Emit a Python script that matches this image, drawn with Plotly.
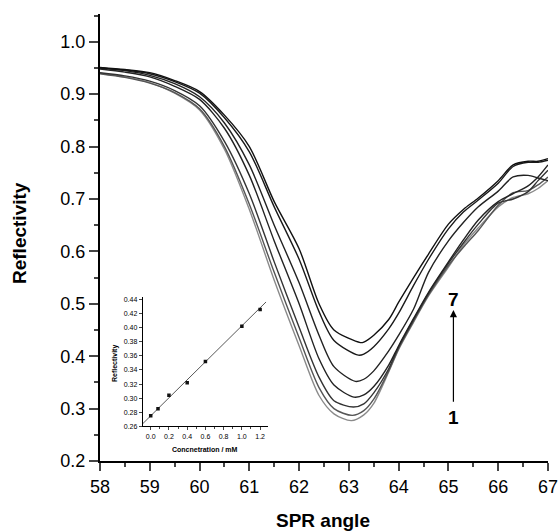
import plotly.graph_objects as go

# ---- main SPR curves (angle in degrees, reflectivity) ----
angle_left = [58, 58.5, 59, 59.5, 60, 60.5, 61, 61.5, 62, 62.4, 62.7]
angle_right = [63.3, 63.5, 63.8, 64.0, 64.3, 64.6, 65.0, 65.3, 65.6, 66.0, 66.3, 66.6, 66.8, 67]

min_angle = [63.05, 63.07, 63.09, 63.10, 63.13, 63.19, 63.23]
min_refl = [0.277, 0.287, 0.303, 0.322, 0.352, 0.402, 0.426]

left_c1 = [0.940, 0.933, 0.922, 0.902, 0.870, 0.795, 0.680, 0.545, 0.420, 0.325, 0.290]
left_c2 = [0.939, 0.932, 0.921, 0.903, 0.872, 0.800, 0.690, 0.560, 0.435, 0.340, 0.300]
left_c3 = [0.941, 0.935, 0.925, 0.907, 0.878, 0.810, 0.710, 0.580, 0.455, 0.360, 0.315]
left_c4 = [0.948, 0.942, 0.933, 0.915, 0.890, 0.835, 0.745, 0.620, 0.500, 0.395, 0.345]
left_c5 = [0.950, 0.945, 0.936, 0.920, 0.895, 0.845, 0.765, 0.650, 0.540, 0.440, 0.380]
left_c6 = [0.950, 0.946, 0.939, 0.924, 0.902, 0.855, 0.790, 0.685, 0.585, 0.485, 0.430]
left_c7 = [0.951, 0.947, 0.941, 0.926, 0.905, 0.860, 0.800, 0.695, 0.605, 0.500, 0.450]

right_c1 = [0.288, 0.310, 0.370, 0.413, 0.465, 0.515, 0.570, 0.612, 0.645, 0.685, 0.703, 0.710, 0.720, 0.735]
right_c2 = [0.296, 0.318, 0.372, 0.415, 0.467, 0.517, 0.573, 0.608, 0.640, 0.688, 0.712, 0.716, 0.727, 0.742]
right_c3 = [0.309, 0.330, 0.376, 0.418, 0.470, 0.520, 0.577, 0.616, 0.652, 0.692, 0.700, 0.714, 0.735, 0.755]
right_c4 = [0.326, 0.342, 0.383, 0.420, 0.472, 0.522, 0.580, 0.622, 0.660, 0.695, 0.710, 0.725, 0.742, 0.765]
right_c5 = [0.356, 0.372, 0.410, 0.440, 0.490, 0.560, 0.620, 0.655, 0.685, 0.715, 0.742, 0.745, 0.740, 0.735]
right_c6 = [0.404, 0.418, 0.452, 0.482, 0.535, 0.585, 0.643, 0.675, 0.698, 0.730, 0.762, 0.770, 0.770, 0.774]
right_c7 = [0.427, 0.440, 0.470, 0.503, 0.550, 0.595, 0.652, 0.680, 0.702, 0.735, 0.765, 0.772, 0.772, 0.777]

lefts = [left_c1, left_c2, left_c3, left_c4, left_c5, left_c6, left_c7]
rights = [right_c1, right_c2, right_c3, right_c4, right_c5, right_c6, right_c7]
curve_colors = ["#8a8a8a", "#555555", "#333333", "#222222", "#222222", "#1a1a1a", "#111111"]

# ---- inset calibration data ----
conc = [0.0, 0.08, 0.2, 0.4, 0.6, 1.0, 1.2]
conc_refl = [0.275, 0.285, 0.304, 0.322, 0.352, 0.402, 0.426]
fit_slope = 0.1278
fit_intercept = 0.2749
fit_x = [-0.088, 1.265]

x_ticks = [58, 59, 60, 61, 62, 63, 64, 65, 66, 67]
y_ticks = [0.2, 0.3, 0.4, 0.5, 0.6, 0.7, 0.8, 0.9, 1.0]
inset_x_ticks = [0.0, 0.2, 0.4, 0.6, 0.8, 1.0, 1.2]
inset_y_ticks = [0.26, 0.28, 0.30, 0.32, 0.34, 0.36, 0.38, 0.40, 0.42, 0.44]

W, H = 560, 531
ML, MR, MT, MB = 100, 12, 14, 70
PAGE_OFF = 0  # body margin removed via post_script


def px_to_paper(px, py):
    x = (px - PAGE_OFF - ML) / (W - ML - MR)
    y = ((H - (py - PAGE_OFF)) - MB) / (H - MT - MB)
    return x, y


fig = go.Figure()

for i in range(7):
    xs = angle_left + [min_angle[i]] + angle_right
    ys = lefts[i] + [min_refl[i]] + rights[i]
    fig.add_trace(go.Scatter(
        x=xs, y=ys, mode="lines",
        line=dict(color=curve_colors[i], width=1.4, shape="spline", smoothing=0.8),
        showlegend=False, hoverinfo="skip", xaxis="x", yaxis="y"))

# inset fit line + points
fig.add_trace(go.Scatter(
    x=fit_x, y=[fit_intercept + fit_slope * v for v in fit_x], mode="lines",
    line=dict(color="#444444", width=0.9), showlegend=False,
    xaxis="x2", yaxis="y2", hoverinfo="skip"))
fig.add_trace(go.Scatter(
    x=conc, y=conc_refl, mode="markers",
    marker=dict(symbol="square", size=3.5, color="#111111"), showlegend=False,
    xaxis="x2", yaxis="y2", hoverinfo="skip"))

font_main = "Liberation Sans, Arial, sans-serif"

title_specs = [
    ("<b>SPR angle</b>", 323, 520, 19, 0),
    ("<b>Reflectivity</b>", 20, 233, 19, -90),
    ("<b>Concnetration / mM</b>", 205, 449, 7, 0),
    ("<b>Reflectivity</b>", 115, 364, 7, -90),
]
title_anns = []
for text, px, py, size, ang in title_specs:
    ax_, ay_ = px_to_paper(px, py)
    title_anns.append(dict(x=ax_, y=ay_, xref="paper", yref="paper", text=text, showarrow=False,
                           xanchor="center", yanchor="middle",
                           textangle=ang, font=dict(size=size, family=font_main, color="black")))

fig.update_layout(
    width=W, height=H,
    margin=dict(l=ML, r=MR, t=MT, b=MB, autoexpand=False),
    paper_bgcolor="white", plot_bgcolor="white",
    font=dict(family=font_main, color="black"),
    xaxis=dict(
        range=[58, 67], tickvals=x_ticks, ticks="outside", ticklen=8, tickwidth=2,
        showline=True, linecolor="black", linewidth=2, showgrid=False, zeroline=False,
        tickfont=dict(size=18, family=font_main), automargin=False,
        minor=dict(ticks="outside", ticklen=4, tickwidth=2, dtick=0.5, tick0=58, showgrid=False),
        domain=[0, 1]),
    yaxis=dict(
        range=[0.2, 1.053], tickvals=y_ticks, tickformat=".1f", ticks="outside", ticklen=9, tickwidth=2,
        showline=True, linecolor="black", linewidth=2, showgrid=False, zeroline=False,
        tickfont=dict(size=18, family=font_main), automargin=False,
        minor=dict(ticks="outside", ticklen=4, tickwidth=2, dtick=0.05, tick0=0.2, showgrid=False),
        domain=[0, 1]),
    xaxis2=dict(
        domain=[0.0953, 0.3757], anchor="y2", range=[-0.088, 1.29],
        tickvals=inset_x_ticks, tickformat=".1f", ticks="outside", ticklen=3, tickwidth=1,
        minor=dict(ticks="outside", ticklen=2, dtick=0.1, tick0=0, showgrid=False),
        showline=True, linecolor="black", linewidth=1, showgrid=False, zeroline=False,
        tickfont=dict(size=7, family=font_main), automargin=False),
    yaxis2=dict(
        domain=[0.0776, 0.367], anchor="x2", range=[0.26, 0.4437],
        tickvals=inset_y_ticks, tickformat=".2f", ticks="outside", ticklen=3, tickwidth=1,
        showline=True, linecolor="black", linewidth=1, showgrid=False, zeroline=False,
        tickfont=dict(size=7, family=font_main), automargin=False),
    annotations=[
        dict(x=65.1, y=0.488, ax=65.1, ay=0.31, xref="x", yref="y", axref="x", ayref="y",
             showarrow=True, arrowhead=2, arrowsize=1.2, arrowwidth=1.2, arrowcolor="black", text=""),
        dict(x=65.1, y=0.508, xref="x", yref="y", text="<b>7</b>", showarrow=False,
             font=dict(size=19, family=font_main, color="black")),
        dict(x=65.1, y=0.283, xref="x", yref="y", text="<b>1</b>", showarrow=False,
             font=dict(size=19, family=font_main, color="black")),
    ] + title_anns,
)

fig.write_html("out.html", config={"displayModeBar": False},
               post_script="document.body.style.margin='0';document.body.style.overflow='hidden';")
